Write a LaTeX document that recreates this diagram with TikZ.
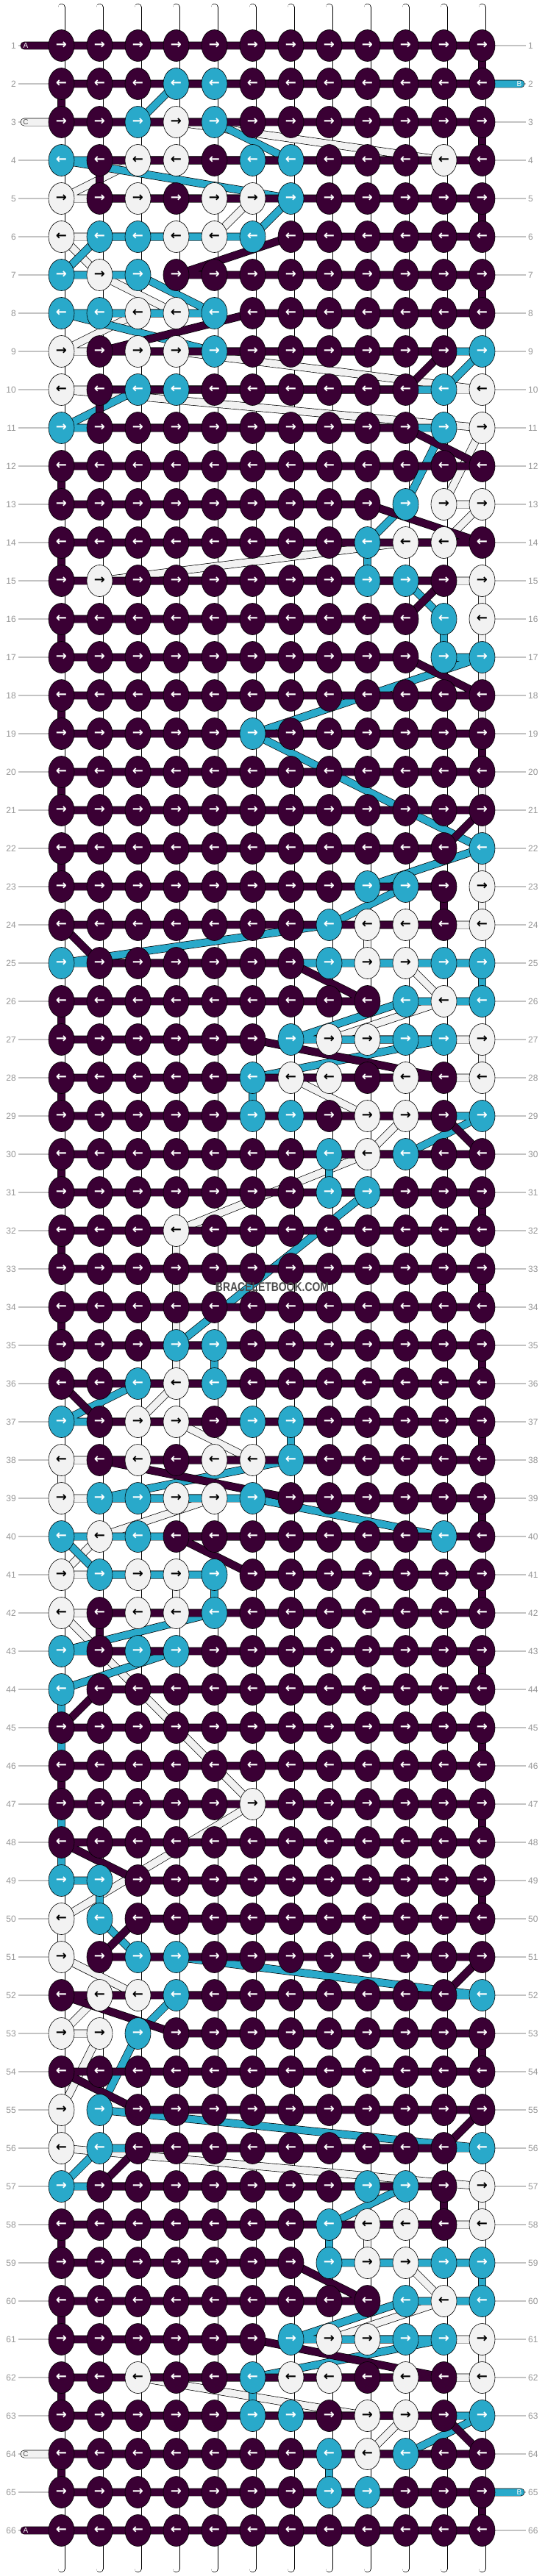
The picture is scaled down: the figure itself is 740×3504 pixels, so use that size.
\documentclass[tikz,border=0pt]{standalone}
\usepackage{fontspec}
\setmainfont{Liberation Sans}
\newfontfamily\arrowfont{DejaVu Sans}
\usepackage{xcolor}
\usepackage{tikz}
\usetikzlibrary{shapes.geometric}
\definecolor{bbPurple}{RGB}{58, 0, 52}
\definecolor{bbBlue}{RGB}{41, 169, 202}
\definecolor{bbWhite}{RGB}{242, 242, 242}
\definecolor{bbLabel}{RGB}{150, 150, 150}
\definecolor{bbGuide}{RGB}{195, 195, 195}
\pgfdeclarelayer{strings}
\pgfdeclarelayer{threads}
\pgfsetlayers{strings,threads,main}
\ExplSyntaxOn
\cs_new_eq:NN \knotat \tl_item:Nn
\ExplSyntaxOff
\tikzset{
    knot/.style={
        ellipse,
        draw=black,
        line width=0.6pt,
        minimum width=35pt,
        minimum height=43pt,
        inner sep=0pt,
        font=\arrowfont\bfseries\fontsize{18}{18}\selectfont
    },
    thread/.style={
        draw=black,
        line width=0.7pt,
        double=#1,
        double distance=9.5pt,
        line cap=round,
        line join=round
    },
    basestring/.style={
        draw=black,
        line width=0.6pt,
        double=white,
        double distance=8.8pt,
        line cap=round
    },
    guide/.style={
        draw=bbGuide,
        line width=1.2pt
    },
    rowlabel/.style={
        font=\fontsize{12}{12}\selectfont,
        text=bbLabel,
        inner sep=3pt
    },
    endlabel/.style={
        font=\fontsize{10}{10}\selectfont,
        inner sep=0pt
    }
}
% knot colours, row by row, left to right (P purple, B blue, W white)
\def\knotgrid{
1/PPPPPPPPPPPP, 2/PPPBBPPPPPPP, 3/PPBWBPPPPPPP, 4/BPWWPBBPPPWP,
5/WPWPWWBPPPPP, 6/WBBWWBPPPPPP, 7/BWBPPPPPPPPP, 8/BBWWBPPPPPPP,
9/WPWWBPPPPPPB, 10/WPBBPPPPPPBW, 11/BPPPPPPPPPBW, 12/PPPPPPPPPPPP,
13/PPPPPPPPPBWW, 14/PPPPPPPPBWWP, 15/PWPPPPPPBBPW, 16/PPPPPPPPPPBW,
17/PPPPPPPPPPBB, 18/PPPPPPPPPPPP, 19/PPPPPBPPPPPP, 20/PPPPPPPPPPPP,
21/PPPPPPPPPPPP, 22/PPPPPPPPPPPB, 23/PPPPPPPPBBPW, 24/PPPPPPPBWWPW,
25/BPPPPPPBWWBB, 26/PPPPPPPPPBWB, 27/PPPPPPBWWBBW, 28/PPPPPBWWPWPW,
29/PPPPPBBPWWPB, 30/PPPPPPPBWBPP, 31/PPPPPPPBBPPP, 32/PPPWPPPPPPPP,
33/PPPPPPPPPPPP, 34/PPPPPPPPPPPP, 35/PPPBBPPPPPPP, 36/PPBWBPPPPPPP,
37/BPWWPBBPPPPP, 38/WPWPWWBPPPPP, 39/WBBWWBPPPPPP, 40/BWBPPPPPPPBP,
41/WBWWBPPPPPPP, 42/WPWWBPPPPPPP, 43/BPBBPPPPPPPP, 44/BPPPPPPPPPPP,
45/PPPPPPPPPPPP, 46/PPPPPPPPPPPP, 47/PPPPPWPPPPPP, 48/PPPPPPPPPPPP,
49/BBPPPPPPPPPP, 50/WBPPPPPPPPPP, 51/WPBBPPPPPPPP, 52/PWWBPPPPPPPB,
53/WWBPPPPPPPPP, 54/PPPPPPPPPPPP, 55/WBPPPPPPPPPP, 56/WBPPPPPPPPPB,
57/BPPPPPPPBBPW, 58/PPPPPPPBWWPW, 59/PPPPPPPBWWBB, 60/PPPPPPPPPBWB,
61/PPPPPPBWWBBW, 62/PPWPPBWWPWPW, 63/PPPPPBBPWWPB, 64/PPPPPPPBWBPP,
65/PPPPPPPBBPPP, 66/PPPPPPPPPPPP}

\begin{document}
\begin{tikzpicture}[x=1pt, y=-1pt]
  \useasboundingbox (0,0) rectangle (740,3504);

  % Row numbers
  \foreach \row in {1,...,66} {
    \node[rowlabel, anchor=east] (ll-\row) at (25, {10+52*\row}) {\row};
    \node[rowlabel, anchor=west] (rl-\row) at (715, {10+52*\row}) {\row};
  }

  % Knots (odd rows run right, even rows run left)
  \gdef\pathP{}\gdef\pathB{}\gdef\pathW{}
  \foreach \row/\pat in \knotgrid {
    \ifodd\row \def\arr{→}\else \def\arr{←}\fi
    \foreach \i in {1,...,12} {
      \ifodd\row \edef\col{\i}\else \edef\col{\the\numexpr 13-\i\relax}\fi
      \edef\kc{\knotat\pat{\col}}
      \if\kc P\colorlet{kfill}{bbPurple}\colorlet{ktext}{white}\xdef\pathP{\pathP -- (k-\row-\col.center)}\fi
      \if\kc B\colorlet{kfill}{bbBlue}\colorlet{ktext}{white}\xdef\pathB{\pathB -- (k-\row-\col.center)}\fi
      \if\kc W\colorlet{kfill}{bbWhite}\colorlet{ktext}{black}\xdef\pathW{\pathW -- (k-\row-\col.center)}\fi
      \node[knot, fill=kfill, text=ktext] (k-\row-\col) at ({31.5+52*\col}, {10+52*\row}) {\arr};
    }
  }

  % Base strings and guide lines
  \begin{pgfonlayer}{strings}
    \fill[white] (0,0) rectangle (740,3504);
    \foreach \col in {1,...,12}
      \draw[basestring] ({31.5+52*\col}, 10) -- ({31.5+52*\col}, 3494);
    \foreach \row in {1,...,66} {
      \draw[guide] (ll-\row) -- (k-\row-1);
      \draw[guide] (k-\row-12) -- (rl-\row);
    }
  \end{pgfonlayer}

  % Thread ends
  \coordinate (a-in) at (33, 62);
  \coordinate (b-in) at (708, 114);
  \coordinate (c-in) at (33, 166);
  \coordinate (c-out) at (33, 3338);
  \coordinate (b-out) at (708, 3390);
  \coordinate (a-out) at (33, 3442);

  % Working threads
  \begin{pgfonlayer}{threads}
    \draw[thread=bbWhite] (c-in) \pathW -- (c-out);
    \draw[thread=bbBlue] (b-in) \pathB -- (b-out);
    \draw[thread=bbPurple] (a-in) \pathP -- (a-out);
  \end{pgfonlayer}

  \node[endlabel, text=white] (a-top) at (35, 62) {A};
  \node[endlabel, text=white] (b-top) at (706, 114) {B};
  \node[endlabel, text=black!70] (c-top) at (35, 166) {C};
  \node[endlabel, text=black!70] (c-bot) at (35, 3338) {C};
  \node[endlabel, text=white] (b-bot) at (706, 3390) {B};
  \node[endlabel, text=white] (a-bot) at (35, 3442) {A};

  \node[font=\bfseries\fontsize{17}{17}\selectfont, text=black!70, xscale=0.82] (mark) at (370, 1751) {BRACELETBOOK.COM};
\end{tikzpicture}
\end{document}
